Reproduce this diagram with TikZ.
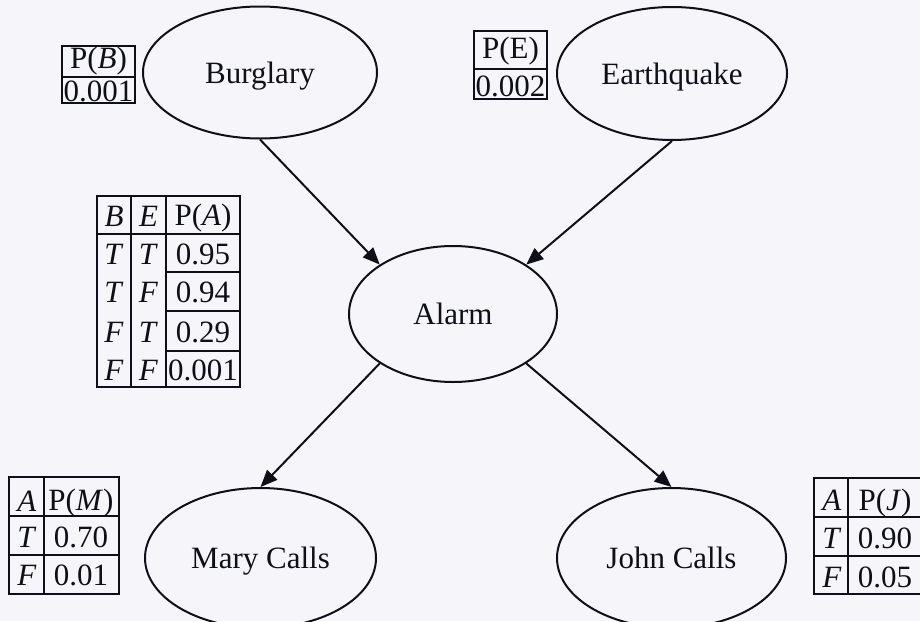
\documentclass[tikz,border=0pt]{standalone}
\usepackage{fontspec}
\setmainfont{Liberation Serif}
\usetikzlibrary{shapes.geometric,arrows.meta}
\definecolor{paper}{RGB}{246,246,250}
\definecolor{ink}{RGB}{15,15,25}
\begin{document}
\begin{tikzpicture}[x=1pt,y=-1pt,
  every node/.style={font=\fontsize{31}{36}\selectfont, text=ink},
  var/.style={ellipse, draw=ink, line width=2pt, inner sep=0pt, text height=21pt, text depth=0pt},
  cell/.style={inner sep=0pt, anchor=center},
  grid/.style={draw=ink, line width=2pt},
  edge/.style={draw=ink, line width=2pt, -{Triangle[length=17pt,width=14pt]}}
]
\clip (0,0) rectangle (920,621);
\fill[paper] (0,0) rectangle (920,621);

% variables
\node[var, minimum width=234pt, minimum height=132pt] (B) at (260,72.5) {Burglary};
\node[var, minimum width=230pt, minimum height=133pt] (E) at (672,73.5) {Earthquake};
\node[var, minimum width=208pt, minimum height=136pt] (A) at (453,314) {Alarm};
\node[var, minimum width=231pt, minimum height=140pt] (M) at (260.5,558) {Mary Calls};
\node[var, minimum width=229pt, minimum height=140pt] (J) at (671.5,558) {John Calls};

% connectors
\draw[edge] (B.south) -- (A.146);
\draw[edge] (E.south) -- (A.34);
\draw[edge] (A.214) -- (M.north);
\draw[edge] (A.326) -- (J.north);

% P(B)
\draw[grid] (62,46) rectangle (135,103);
\draw[grid] (62,77) -- (135,77);
\node[cell] (pbh) at (98.5,61.5) {P(\textit{B})};
\node[cell] (pbv) at (98.5,91) {0.001};

% P(E)
\draw[grid] (474,31) rectangle (547,99);
\draw[grid] (474,69) -- (547,69);
\node[cell] (peh) at (510.5,51) {P(E)};
\node[cell] (pev) at (510.5,86.5) {0.002};

% P(A | B,E)
\draw[grid] (97,196) rectangle (240,387);
\draw[grid] (131,196) -- (131,387);
\draw[grid] (166,196) -- (166,387);
\draw[grid] (97,234) -- (240,234);
\draw[grid] (166,272) -- (240,272);
\draw[grid] (166,311) -- (240,311);
\draw[grid] (166,351) -- (240,351);
\node[cell] (pah1) at (114,216.5) {\textit{B}};
\node[cell] (pah2) at (148.5,216.5) {\textit{E}};
\node[cell] (pah3) at (203,218.5) {P(\textit{A})};
\node[cell] (pa1b) at (114,254.5) {\textit{T}};
\node[cell] (pa1e) at (148.5,254.5) {\textit{T}};
\node[cell] (pa1v) at (203,254.5) {0.95};
\node[cell] (pa2b) at (114,292.5) {\textit{T}};
\node[cell] (pa2e) at (148.5,292.5) {\textit{F}};
\node[cell] (pa2v) at (203,292.5) {0.94};
\node[cell] (pa3b) at (114,332) {\textit{F}};
\node[cell] (pa3e) at (148.5,332) {\textit{T}};
\node[cell] (pa3v) at (203,332) {0.29};
\node[cell] (pa4b) at (114,370) {\textit{F}};
\node[cell] (pa4e) at (148.5,370) {\textit{F}};
\node[cell] (pa4v) at (203,370) {0.001};

% P(M | A)
\draw[grid] (9,477) rectangle (119,594);
\draw[grid] (44,477) -- (44,594);
\draw[grid] (9,516) -- (119,516);
\draw[grid] (9,555) -- (119,555);
\node[cell] (pmh1) at (27,501) {\textit{A}};
\node[cell] (pmh2) at (81,503.5) {P(\textit{M})};
\node[cell] (pm1a) at (27,537) {\textit{T}};
\node[cell] (pm1v) at (81,537) {0.70};
\node[cell] (pm2a) at (27,575) {\textit{F}};
\node[cell] (pm2v) at (81,575) {0.01};

% P(J | A)
\draw[grid] (930,478) -- (814,478) -- (814,594) -- (930,594);
\draw[grid] (848,478) -- (848,594);
\draw[grid] (814,517) -- (930,517);
\draw[grid] (814,556) -- (930,556);
\node[cell] (pjh1) at (832,500) {\textit{A}};
\node[cell] (pjh2) at (885,503.5) {P(\textit{J})};
\node[cell] (pj1a) at (832,538) {\textit{T}};
\node[cell] (pj1v) at (885,538) {0.90};
\node[cell] (pj2a) at (832,577) {\textit{F}};
\node[cell] (pj2v) at (885,577) {0.05};
\end{tikzpicture}
\end{document}
